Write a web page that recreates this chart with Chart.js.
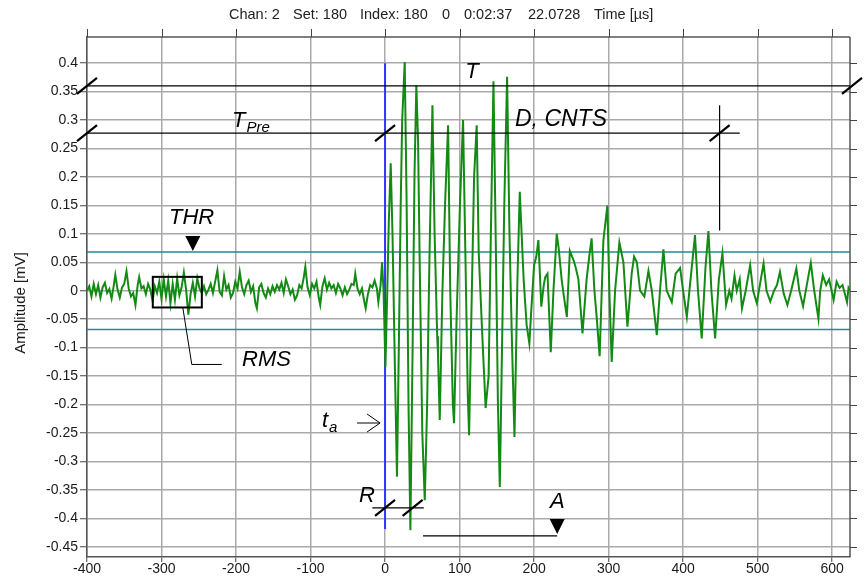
<!DOCTYPE html>
<html>
<head>
<meta charset="utf-8">
<script src="https://cdn.jsdelivr.net/npm/chart.js@4/dist/chart.umd.min.js"></script>
<style>
  html, body { margin: 0; padding: 0; background: #fff; }
  #wrap { width: 865px; height: 581px; }
</style>
</head>
<body>
<div id="wrap"><canvas id="c" width="865" height="581"></canvas></div>
<script>
// Acoustic emission hit: time [µs] / amplitude [mV] pairs
const preTrigger = [
  [-400,0.000],[-397,0.008],[-394,-0.010],[-391,0.012],[-388,-0.006],[-385,0.010],[-382,-0.012],[-379,0.006],
  [-376,0.014],[-373,-0.004],[-370,0.003],[-367,-0.014],[-364,0.010],[-362,0.028],[-359,0.002],[-356,-0.012],
  [-353,0.006],[-350,0.012],[-347,0.034],[-344,0.004],[-341,-0.010],[-338,-0.004],[-335,-0.025],[-332,0.010],
  [-330,0.024],[-327,0.004],[-324,0.008],[-321,-0.006],[-318,0.012],[-315,0.002],[-312,-0.018],[-309,0.008],
  [-306,-0.004],[-303,0.016],[-300,-0.014],[-297,0.020],[-294,-0.010],[-291,0.018],[-288,-0.022],[-285,0.012],
  [-282,-0.016],[-279,0.022],[-276,-0.008],[-273,0.006],[-270,0.032],[-267,0.002],[-264,-0.042],[-261,-0.006],
  [-258,0.014],[-255,-0.010],[-252,0.022],[-249,0.004],[-246,-0.004],[-243,0.008],[-240,-0.006],[-237,0.002],
  [-234,0.012],[-231,-0.004],[-228,0.016],[-225,0.036],[-222,-0.002],[-219,-0.008],[-216,0.026],[-213,0.002],
  [-210,0.010],[-207,-0.012],[-204,-0.004],[-201,0.016],[-198,0.004],[-195,0.033],[-192,0.006],[-189,-0.006],
  [-186,0.010],[-183,0.018],[-180,-0.002],[-177,0.008],[-174,-0.022],[-172,-0.031],[-169,0.006],[-166,0.012],
  [-163,-0.004],[-160,-0.012],[-157,0.004],[-154,-0.006],[-151,0.008],[-148,-0.002],[-145,0.010],[-142,0.002],
  [-139,0.014],[-136,-0.004],[-133,0.020],[-130,0.008],[-127,-0.006],[-124,0.002],[-121,-0.016],[-118,-0.008],
  [-115,0.010],[-112,0.004],[-109,0.024],[-107,0.042],[-104,0.006],[-101,-0.008],[-98,0.012],[-95,0.004],
  [-92,0.016],[-89,-0.012],[-87,-0.025],[-84,0.008],[-81,0.022],[-78,0.002],[-75,0.014],[-72,0.004],
  [-69,0.010],[-66,-0.004],[-63,0.012],[-60,0.004],[-57,-0.008],[-54,0.006],[-51,-0.006],[-48,0.002],
  [-45,0.012],[-42,0.010],[-40,0.030],[-37,0.004],[-34,-0.006],[-31,0.004],[-28,-0.018],[-26,-0.031],
  [-23,-0.006],[-20,0.010],[-17,0.006],[-14,0.018],[-11,0.004],[-9,-0.020],[-6,0.010],[-4,0.050],[-2,0.000]
];

const burst = [
  [0.5,-0.134],[3,0.0],[5,0.12],[7.6,0.224],[10,0.1],[13,-0.12],[16,-0.327],[18.5,-0.1],[21,0.15],
  [23,0.3],[26.4,0.402],[29,0.15],[31.5,-0.2],[34,-0.421],[37,-0.1],[39.5,0.2],[42,0.361],[44.3,0.265],
  [46.5,0.05],[50,-0.25],[53.3,-0.368],[56.4,-0.206],[59.5,0.05],[63.6,0.326],[66.5,0.1],[70,-0.08],
  [71,-0.11],[73.4,-0.227],[77,0.0],[80.5,0.15],[84.6,0.291],[87.5,0.0],[91,-0.2],[92.6,-0.233],[96,-0.05],
  [100.5,0.15],[104.7,0.3],[108,0.05],[111,-0.18],[112.8,-0.254],[116.5,0.0],[119.5,0.2],[123,0.291],
  [125.7,0.068],[130.6,-0.081],[135,-0.206],[139,-0.15],[142,0.1],[145.5,0.368],[149,0.05],[151.5,-0.2],
  [154,-0.345],[157,-0.1],[160,0.15],[163.8,0.376],[167,0.1],[170.5,-0.1],[173.7,-0.257],[177.6,0.016],
  [180.8,0.174]
];

const decay = [
  [186,0.02],[190,-0.06],[193.7,-0.093],[196,-0.04],[200,0.045],[203,0.06],[205.8,0.089],[209.7,-0.028],
  [213,0.01],[215,0.024],[218,0.03],[222.4,-0.108],[226,0.0],[230.4,0.1],[233,0.075],[237,0.02],[240,-0.01],
  [244,-0.046],[248,0.07],[251,0.06],[253,0.054],[256,0.04],[259.5,0.02],[265,-0.075],[270.5,0.02],
  [274,0.06],[277.2,0.092],[281,0.0],[284,-0.046],[288,-0.115],[293,0.088],[298.4,0.15],[301,0.0],
  [304.2,-0.125],[308.7,0.0],[314.5,0.085],[319.9,0.05],[325.3,-0.063],[331,0.03],[334.2,0.06],[338,0.05],
  [342.3,0.0],[348,-0.01],[353.5,0.035],[358,0.0],[364.7,-0.078],[369,0.0],[373.6,0.073],[378,0.0],
  [384.8,-0.02],[390,0.03],[396,0.04],[400,0.0],[405,-0.046],[410,0.02],[416,0.098],[420,0.0],[425,-0.084],
  [430,0.04],[434,0.105],[438,0.0],[443,-0.084],[448,0.02],[452.8,0.066],[457.7,-0.025],[462,0.0],
  [465,-0.014],[469,0.027],[472,0.0],[476,0.02],[479,-0.031],[484,0.0],[490,0.045],[494,0.0],[499,-0.022],
  [503,0.01],[508,0.048],[512,0.0],[517,-0.019],[522,0.0],[526,0.01],[530,0.033],[535,-0.005],[540,-0.025],
  [545,0.0],[552,0.039],[556,0.0],[561,-0.027],[566,0.01],[571.4,0.049],[576,0.0],[581.6,-0.049],[584,0.0],
  [587.5,0.027],[592,0.01],[596,0.02],[602,-0.016],[606,0.016],[610,0.005],[614,0.01],[617,-0.005],
  [620,-0.02],[622,0.005],[624,0.0]
];

// Hit feature levels (mV) and times (µs)
const thresholdMv = 0.068;
const arrivalUs = 0;
const arrivalSpan = [0.4, -0.419];
const totalLevel = 0.36;
const durationLevel = 0.277;
const durationEndUs = 449;
const durationLineEndUs = 476;
const durationMarker = [0.326, 0.106];
const riseLevel = -0.3815;
const riseSpan = [-17, 52];
const riseEndUs = 37;
const ampLevel = -0.431;
const ampSpan = [51, 231];
const rmsWindow = { t0: -311.7, t1: -245.9, a0: 0.0244, a1: -0.0294 };
const thrMarkUs = -258;

// Header fields of the acquisition record
const headerFields = ['Chan: 2', 'Set: 180', 'Index: 180', '0', '0:02:37', '22.0728', 'Time [\u00b5s]'];
const headerFieldX = [229, 293, 360, 442, 464, 528, 594];
const yAxisTitle = 'Amplitude [mV]';

const FONT = '"Liberation Sans", Arial, sans-serif';

const trace = preTrigger.concat(burst, decay).map(([t, a]) => ({ x: t, y: a }));

function seg(ctx, x0, y0, x1, y1) {
  ctx.beginPath(); ctx.moveTo(x0, y0); ctx.lineTo(x1, y1); ctx.stroke();
}
function slash(ctx, cx, cy) {
  ctx.save(); ctx.lineWidth = 2.2; ctx.strokeStyle = '#000';
  seg(ctx, cx - 10, cy + 8, cx + 10, cy - 8);
  ctx.restore();
}
function italicLabel(ctx, text, x, y, size, sub, subSize) {
  ctx.font = 'italic ' + size + 'px ' + FONT;
  ctx.fillStyle = '#000';
  ctx.textAlign = 'left';
  ctx.textBaseline = 'alphabetic';
  ctx.fillText(text, x, y);
  if (sub) {
    const w = ctx.measureText(text).width;
    ctx.font = 'italic ' + subSize + 'px ' + FONT;
    ctx.fillText(sub, x + w + 1, y + 5);
  }
}

const hitMarks = {
  id: 'hitMarks',
  beforeDatasetsDraw(chart) {
    const { ctx, scales: { x, y } } = chart;
    const X = v => x.getPixelForValue(v), Y = v => y.getPixelForValue(v);
    ctx.save();
    // detection threshold
    ctx.strokeStyle = '#218c94'; ctx.lineWidth = 1.6;
    for (const lv of [thresholdMv, -thresholdMv]) seg(ctx, X(x.min), Y(lv), X(x.max), Y(lv));
    // arrival time
    ctx.strokeStyle = '#3434ff'; ctx.lineWidth = 2;
    seg(ctx, X(arrivalUs), Y(arrivalSpan[0]), X(arrivalUs), Y(arrivalSpan[1]));
    ctx.restore();
  },
  afterDatasetsDraw(chart) {
    const { ctx, chartArea: a, scales: { x, y } } = chart;
    const X = v => x.getPixelForValue(v), Y = v => y.getPixelForValue(v);
    ctx.save();

    // frame top/right with outer ticks
    ctx.strokeStyle = '#555'; ctx.lineWidth = 1.5;
    seg(ctx, a.left, a.top, a.right, a.top);
    seg(ctx, a.right, a.top, a.right, a.bottom);
    ctx.lineWidth = 1; ctx.strokeStyle = '#444';
    x.ticks.forEach(t => { const p = Math.round(X(t.value)) + 0.5; seg(ctx, p, a.top - 8, p, a.top); });
    y.ticks.forEach(t => { const p = Math.round(Y(t.value)) + 0.5; seg(ctx, a.right, p, a.right + 7, p); });

    ctx.strokeStyle = '#000'; ctx.lineWidth = 1.2;
    // T: total window
    seg(ctx, X(x.min), Y(totalLevel), X(x.max), Y(totalLevel));
    slash(ctx, X(x.min), Y(totalLevel));
    slash(ctx, X(x.max) + 2, Y(totalLevel));
    // T_Pre and D, CNTS
    seg(ctx, X(x.min), Y(durationLevel), X(durationLineEndUs), Y(durationLevel));
    slash(ctx, X(x.min), Y(durationLevel));
    slash(ctx, X(arrivalUs), Y(durationLevel));
    slash(ctx, X(durationEndUs), Y(durationLevel));
    seg(ctx, X(durationEndUs), Y(durationMarker[0]), X(durationEndUs), Y(durationMarker[1]));
    // R: rise time
    seg(ctx, X(riseSpan[0]), Y(riseLevel), X(riseSpan[1]), Y(riseLevel));
    slash(ctx, X(arrivalUs), Y(riseLevel));
    slash(ctx, X(riseEndUs), Y(riseLevel));
    // A: amplitude
    seg(ctx, X(ampSpan[0]), Y(ampLevel), X(ampSpan[1]), Y(ampLevel));
    ctx.fillStyle = '#000';
    const triangle = (cx, tipY) => {
      ctx.beginPath(); ctx.moveTo(cx - 7.5, tipY - 15); ctx.lineTo(cx + 7.5, tipY - 15); ctx.lineTo(cx, tipY); ctx.closePath(); ctx.fill();
    };
    triangle(X(ampSpan[1]), Y(ampLevel) - 2);
    triangle(X(thrMarkUs), Y(thresholdMv) - 1);
    // RMS window
    ctx.lineWidth = 2;
    ctx.strokeRect(X(rmsWindow.t0), Y(rmsWindow.a0), X(rmsWindow.t1) - X(rmsWindow.t0), Y(rmsWindow.a1) - Y(rmsWindow.a0));
    ctx.lineWidth = 1;
    const lx = X(rmsWindow.t0) + 30, ly = Y(rmsWindow.a1);
    ctx.beginPath(); ctx.moveTo(lx, ly); ctx.lineTo(lx + 9, ly + 57); ctx.lineTo(lx + 39, ly + 57); ctx.stroke();
    // t_a arrow
    const ax = X(arrivalUs) - 5, ay = 423;
    ctx.beginPath(); ctx.moveTo(ax - 23, ay); ctx.lineTo(ax, ay);
    ctx.moveTo(ax - 13, ay - 9); ctx.lineTo(ax, ay); ctx.lineTo(ax - 13, ay + 9); ctx.stroke();

    // labels
    italicLabel(ctx, 'T', X(117) - 7, Y(totalLevel) - 8, 22);
    italicLabel(ctx, 'T', 232, Y(durationLevel) - 6, 22, 'Pre', 15);
    italicLabel(ctx, 'D, CNTS', 515, Y(durationLevel) - 7, 23);
    italicLabel(ctx, 'THR', 169, 224, 22);
    italicLabel(ctx, 'RMS', 242, 366, 22);
    italicLabel(ctx, 't', 322, 427, 22, 'a', 15);
    italicLabel(ctx, 'R', 359, 502, 22);
    italicLabel(ctx, 'A', 550, 508, 22);

    // header line
    ctx.font = '14.5px ' + FONT;
    ctx.fillStyle = '#222';
    ctx.textAlign = 'left';
    ctx.textBaseline = 'middle';
    headerFields.forEach((s, i) => ctx.fillText(s, headerFieldX[i], 15));

    // y axis title
    ctx.save();
    ctx.translate(21, 303);
    ctx.rotate(-Math.PI / 2);
    ctx.font = '15px ' + FONT;
    ctx.textAlign = 'center';
    ctx.fillStyle = '#1a1a1a';
    ctx.fillText(yAxisTitle, 0, 0);
    ctx.restore();
    ctx.restore();
  }
};

new Chart(document.getElementById('c'), {
  type: 'line',
  data: {
    datasets: [{
      data: trace,
      borderColor: '#138a13',
      borderWidth: 2,
      pointRadius: 0,
      tension: 0,
      fill: false
    }]
  },
  options: {
    responsive: false,
    animation: false,
    devicePixelRatio: 1,
    layout: { padding: { top: 37, right: 15, left: 0, bottom: 0 } },
    plugins: { legend: { display: false }, tooltip: { enabled: false }, title: { display: false } },
    scales: {
      x: {
        type: 'linear',
        min: -400,
        max: 624,
        afterFit(s) { s.height = 24; },
        ticks: {
          stepSize: 100, includeBounds: false, maxRotation: 0, autoSkip: false,
          color: '#1a1a1a', font: { family: FONT, size: 14 }, padding: -1
        },
        grid: { color: '#a9a9a9', lineWidth: 1.5, tickLength: 5, tickColor: '#444', tickWidth: 1 },
        border: { color: '#555', width: 1.5 }
      },
      y: {
        type: 'linear',
        min: -0.468,
        max: 0.446,
        afterFit(s) { s.width = 87; },
        ticks: {
          stepSize: 0.05, includeBounds: false,
          color: '#1a1a1a', font: { family: FONT, size: 14 }, padding: 2,
          callback: v => String(+v.toFixed(2))
        },
        grid: { color: '#a9a9a9', lineWidth: 1.5, tickLength: 7, tickColor: '#444', tickWidth: 1 },
        border: { color: '#555', width: 1.5 }
      }
    }
  },
  plugins: [hitMarks]
});
</script>
</body>
</html>
